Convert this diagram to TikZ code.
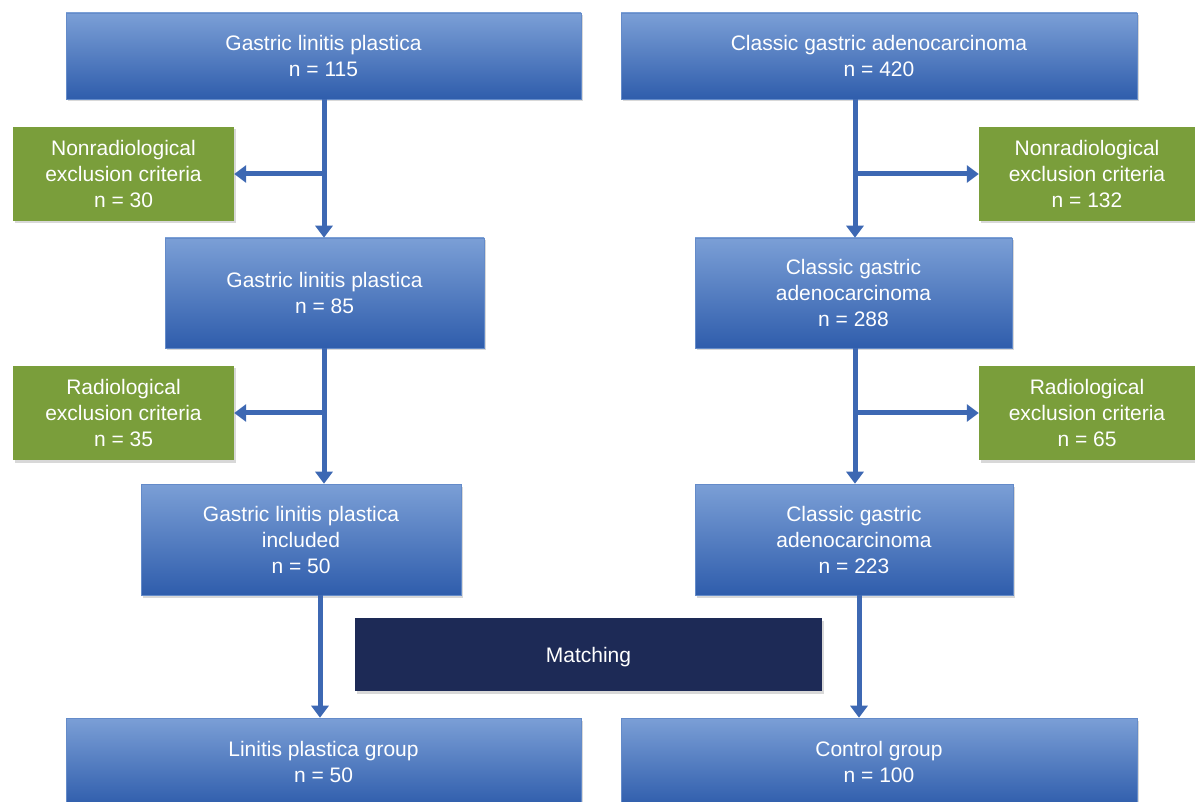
\documentclass[tikz,border=0pt]{standalone}
\usepackage{fontspec}
\setmainfont{Liberation Sans}
\usetikzlibrary{arrows.meta,shadows}
\definecolor{boxtop}{HTML}{7B9FD6}
\definecolor{boxbot}{HTML}{2F5DAC}
\definecolor{exgreen}{HTML}{7A9E3B}
\definecolor{navy}{HTML}{1D2A56}
\definecolor{linkblue}{HTML}{3D68B3}
\tikzset{
  base/.style={rectangle, inner sep=0pt, align=center, text=white,
    font=\fontsize{21}{26}\selectfont,
    drop shadow={opacity=0.3, shadow xshift=1.5pt, shadow yshift=-2.5pt}},
  bluebox/.style={base, top color=boxtop, bottom color=boxbot, draw=boxtop!70!boxbot, line width=0.6pt},
  greenbox/.style={base, fill=exgreen},
  navybox/.style={base, fill=navy},
  arr/.style={draw=linkblue, line width=5pt, -{Triangle[length=12pt,width=17pt]}}
}
\begin{document}
\begin{tikzpicture}[x=1pt,y=-1pt]
\useasboundingbox (0,0) rectangle (1195,802);
\clip (0,0) rectangle (1195,802);
\fill[white] (0,0) rectangle (1195,802);

\node[bluebox, minimum width=515pt, minimum height=86pt] (tl) at (323.5,56) {Gastric linitis plastica\\n = 115};
\node[bluebox, minimum width=516pt, minimum height=86pt] (tr) at (879,56) {Classic gastric adenocarcinoma\\n = 420};

\node[greenbox, minimum width=221pt, minimum height=94pt] (gl1) at (123.5,174) {Nonradiological\\exclusion criteria\\n = 30};
\node[greenbox, minimum width=216pt, minimum height=94pt] (gr1) at (1087,174) {Nonradiological\\exclusion criteria\\n = 132};

\node[bluebox, minimum width=319pt, minimum height=110pt] (ml) at (324.5,293) {Gastric linitis plastica\\n = 85};
\node[bluebox, minimum width=317pt, minimum height=110pt] (mr) at (853.5,293) {Classic gastric\\adenocarcinoma\\n = 288};

\node[greenbox, minimum width=221pt, minimum height=94pt] (gl2) at (123.5,413) {Radiological\\exclusion criteria\\n = 35};
\node[greenbox, minimum width=216pt, minimum height=94pt] (gr2) at (1087,413) {Radiological\\exclusion criteria\\n = 65};

\node[bluebox, minimum width=320pt, minimum height=111pt] (ll) at (301,539.5) {Gastric linitis plastica\\included\\n = 50};
\node[bluebox, minimum width=318pt, minimum height=111pt] (lr) at (854,539.5) {Classic gastric\\adenocarcinoma\\n = 223};

\node[navybox, minimum width=467pt, minimum height=73pt, text height=21pt, text depth=4.5pt] (match) at (588.5,654.5) {Matching};

\node[bluebox, minimum width=515pt, minimum height=88pt] (bl) at (323.5,762) {Linitis plastica group\\n = 50};
\node[bluebox, minimum width=516pt, minimum height=88pt] (br) at (879,762) {Control group\\n = 100};

% column positions of the connectors
\coordinate (lxa) at (324,0);
\coordinate (lxb) at (320,0);
\coordinate (rxa) at (855,0);
\coordinate (rxb) at (859,0);
\coordinate (bl1) at (324,174);
\coordinate (bl2) at (324,413);
\coordinate (br1) at (855,174);
\coordinate (br2) at (855,413);

% left column
\draw[arr] (tl.south -| lxa) -- (ml.north -| lxa);
\draw[arr] (bl1) -- (gl1.east);
\draw[arr] (ml.south -| lxa) -- (ll.north -| lxa);
\draw[arr] (bl2) -- (gl2.east);
\draw[arr] (ll.south -| lxb) -- (bl.north -| lxb);

% right column
\draw[arr] (tr.south -| rxa) -- (mr.north -| rxa);
\draw[arr] (br1) -- (gr1.west);
\draw[arr] (mr.south -| rxa) -- (lr.north -| rxa);
\draw[arr] (br2) -- (gr2.west);
\draw[arr] (lr.south -| rxb) -- (br.north -| rxb);
\end{tikzpicture}
\end{document}
